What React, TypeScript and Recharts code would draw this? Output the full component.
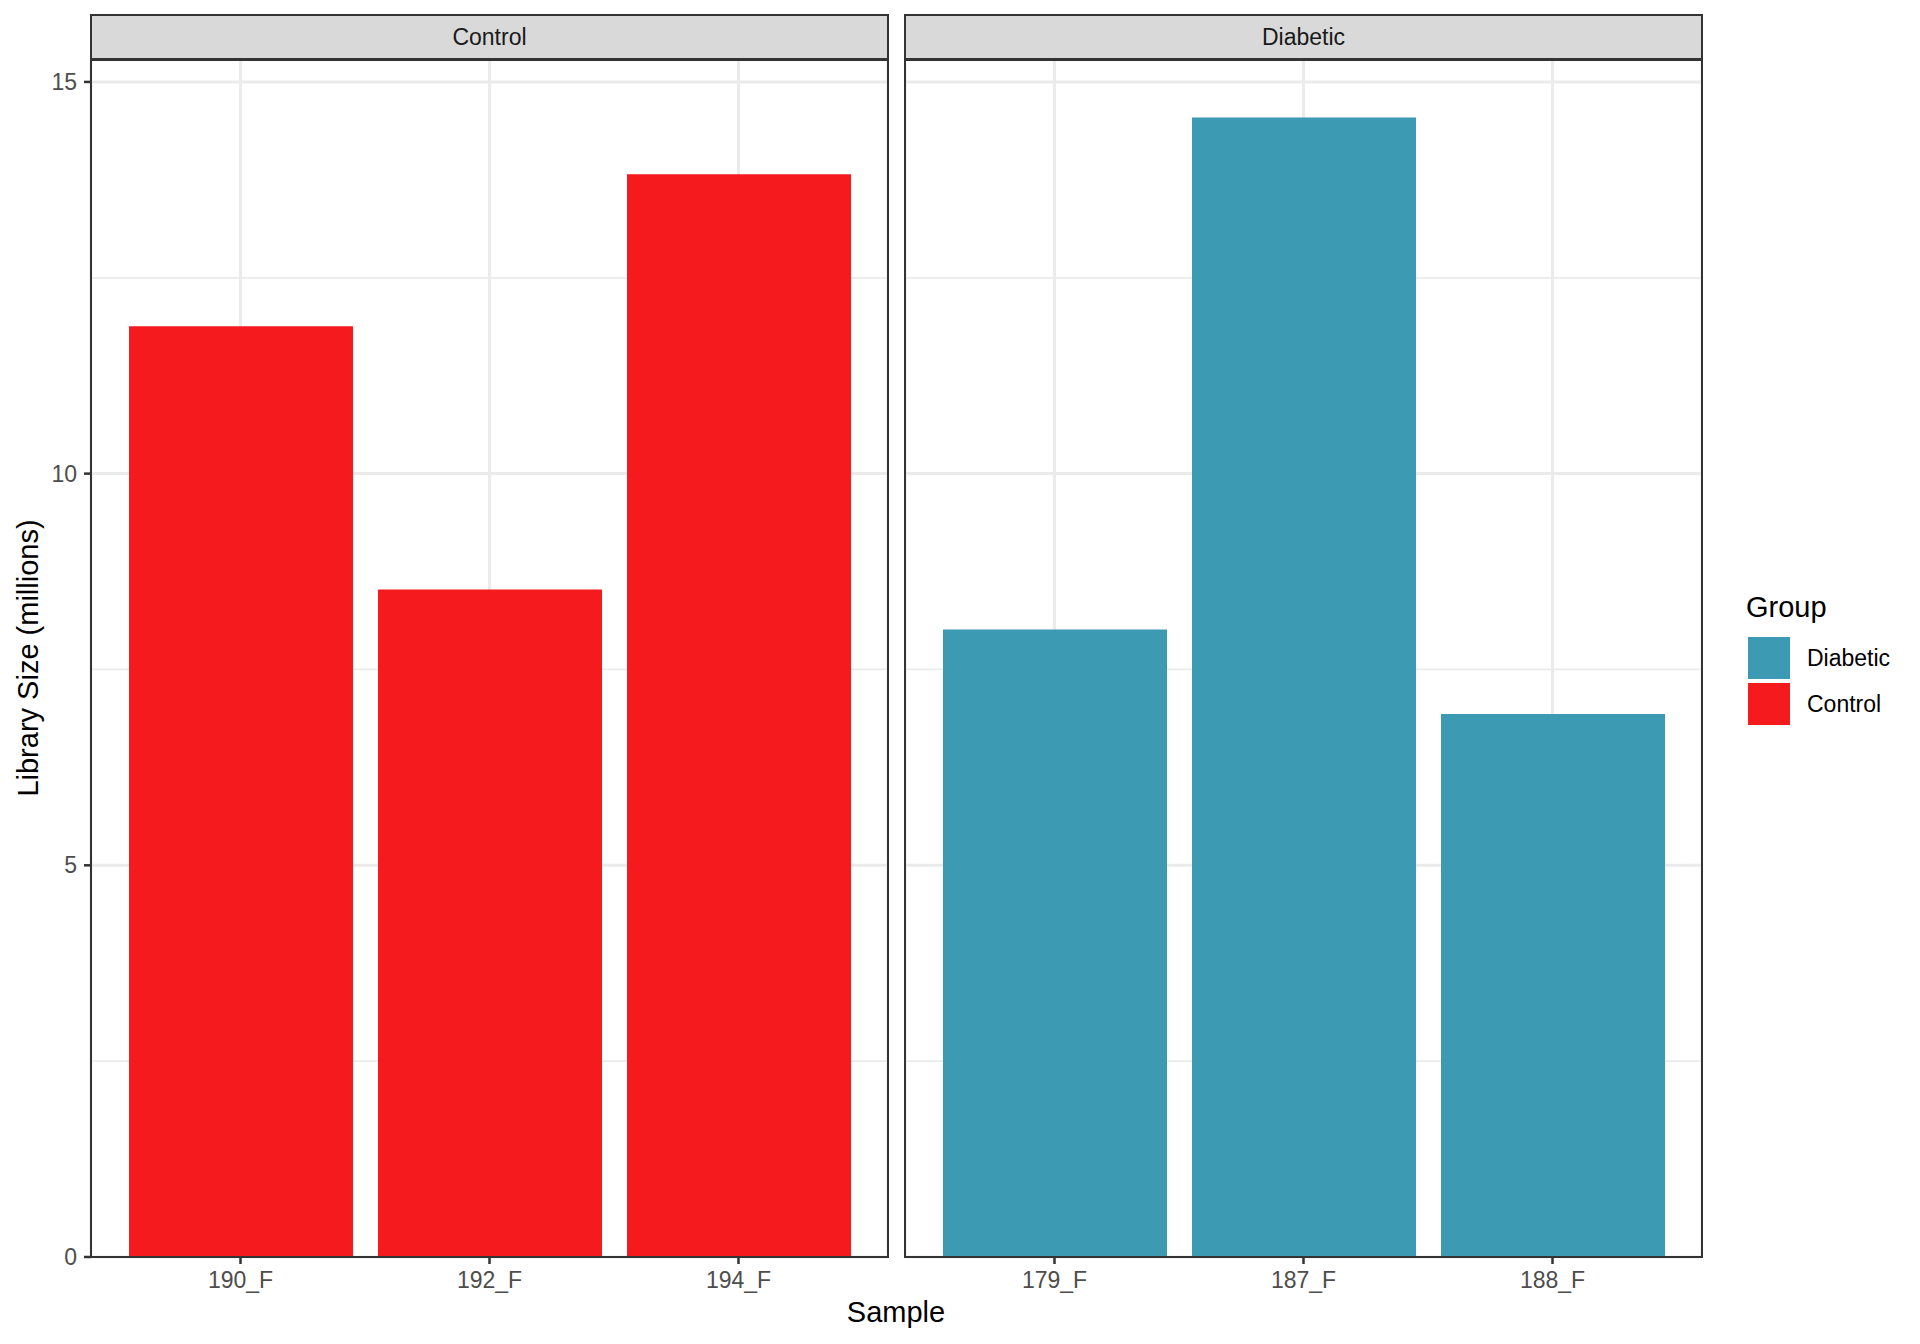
import { BarChart, Bar, XAxis, YAxis, CartesianGrid } from "recharts";

const controlSamples = ["190_F", "192_F", "194_F"];
const controlSizes = [11.88, 8.52, 13.82];
const diabeticSamples = ["179_F", "187_F", "188_F"];
const diabeticSizes = [8.01, 14.545, 6.93];

const majorTicks = [0, 5, 10, 15];
const minorTicks = [2.5, 7.5, 12.5];
const yMax = 15.28;

const legendGroups = ["Diabetic", "Control"];
const groupColors: Record<string, string> = {
  Diabetic: "#3C9AB2",
  Control: "#F41A1E",
};

const FONT = '"Liberation Sans", Arial, Helvetica, sans-serif';
const PANEL_TOP = 60;
const PANEL_BOTTOM = 1257;
const CHART_H = 1344;
const SMALL = 23;
const BIG = 29;

interface PanelProps {
  title: string;
  samples: string[];
  sizes: number[];
  left: number;
  plotLeft: number;
  plotWidth: number;
  showY: boolean;
}

function Panel({ title, samples, sizes, left, plotLeft, plotWidth, showY }: PanelProps) {
  const data = samples.map((s, i) => ({ sample: s, size: sizes[i] }));
  const yWidth = showY ? plotLeft - left : 0;
  const width = yWidth + plotWidth;

  return (
    <>
      <div style={{ position: "absolute", left, top: 0 }}>
        <BarChart
          width={width}
          height={CHART_H}
          data={data}
          margin={{ top: PANEL_TOP, right: 0, bottom: CHART_H - PANEL_BOTTOM - 40, left: 0 }}
        >
          <CartesianGrid
            horizontalValues={minorTicks}
            vertical={false}
            stroke="#EBEBEB"
            strokeWidth={1.7}
          />
          <CartesianGrid horizontalValues={majorTicks} stroke="#EBEBEB" strokeWidth={3} />
          <XAxis
            dataKey="sample"
            interval={0}
            height={40}
            padding={{ left: 25, right: 25 }}
            axisLine={false}
            tickSize={7}
            tickMargin={8}
            tickLine={{ stroke: "#333333", strokeWidth: 2.5 }}
            tick={{ fill: "#4D4D4D", fontSize: SMALL, fontFamily: FONT }}
          />
          <YAxis
            hide={!showY}
            width={yWidth}
            domain={[0, yMax]}
            ticks={majorTicks}
            allowDataOverflow
            axisLine={false}
            tickSize={7}
            tickMargin={7}
            tickLine={{ stroke: "#333333", strokeWidth: 2.5 }}
            tick={{ fill: "#4D4D4D", fontSize: SMALL, fontFamily: FONT }}
          />
          <Bar dataKey="size" fill={groupColors[title]} barSize={224} isAnimationActive={false} />
        </BarChart>
      </div>
      {/* facet strip */}
      <div
        style={{
          position: "absolute",
          left: plotLeft - 1,
          top: 14,
          width: plotWidth + 2,
          height: 46,
          boxSizing: "border-box",
          background: "#D9D9D9",
          border: "2px solid #333333",
          color: "#1A1A1A",
          fontSize: SMALL,
          fontFamily: FONT,
          display: "flex",
          alignItems: "center",
          justifyContent: "center",
        }}
      >
        {title}
      </div>
      {/* panel border */}
      <div
        style={{
          position: "absolute",
          left: plotLeft - 1,
          top: PANEL_TOP - 1,
          width: plotWidth + 2,
          height: PANEL_BOTTOM - PANEL_TOP + 2,
          boxSizing: "border-box",
          border: "2px solid #333333",
          pointerEvents: "none",
        }}
      />
    </>
  );
}

export default function App() {
  return (
    <div
      style={{
        position: "absolute",
        left: 0,
        top: 0,
        width: 1920,
        height: 1344,
        background: "#FFFFFF",
        fontFamily: FONT,
        overflow: "hidden",
      }}
    >
      <Panel
        title="Control"
        samples={controlSamples}
        sizes={controlSizes}
        left={0}
        plotLeft={91}
        plotWidth={797}
        showY
      />
      <Panel
        title="Diabetic"
        samples={diabeticSamples}
        sizes={diabeticSizes}
        left={905}
        plotLeft={905}
        plotWidth={797}
        showY={false}
      />

      {/* y axis title */}
      <div
        style={{
          position: "absolute",
          left: 28,
          top: 658,
          transform: "translate(-50%, -50%) rotate(-90deg)",
          whiteSpace: "nowrap",
          fontSize: BIG,
          lineHeight: `${BIG}px`,
          color: "#000",
        }}
      >
        Library Size (millions)
      </div>

      {/* x axis title */}
      <div
        style={{
          position: "absolute",
          left: 896,
          top: 1312,
          transform: "translate(-50%, -50%)",
          whiteSpace: "nowrap",
          fontSize: BIG,
          lineHeight: `${BIG}px`,
          color: "#000",
        }}
      >
        Sample
      </div>

      {/* legend */}
      <div
        style={{
          position: "absolute",
          left: 1746,
          top: 607,
          transform: "translateY(-50%)",
          fontSize: BIG,
          lineHeight: `${BIG}px`,
          color: "#000",
        }}
      >
        Group
      </div>
      {legendGroups.map((g, i) => (
        <div key={g}>
          <div
            style={{
              position: "absolute",
              left: 1748,
              top: 637 + i * 46,
              width: 42,
              height: 42,
              background: groupColors[g],
            }}
          />
          <div
            style={{
              position: "absolute",
              left: 1807,
              top: 658 + i * 46,
              transform: "translateY(-50%)",
              fontSize: SMALL,
              lineHeight: `${SMALL}px`,
              color: "#000",
            }}
          >
            {g}
          </div>
        </div>
      ))}
    </div>
  );
}
